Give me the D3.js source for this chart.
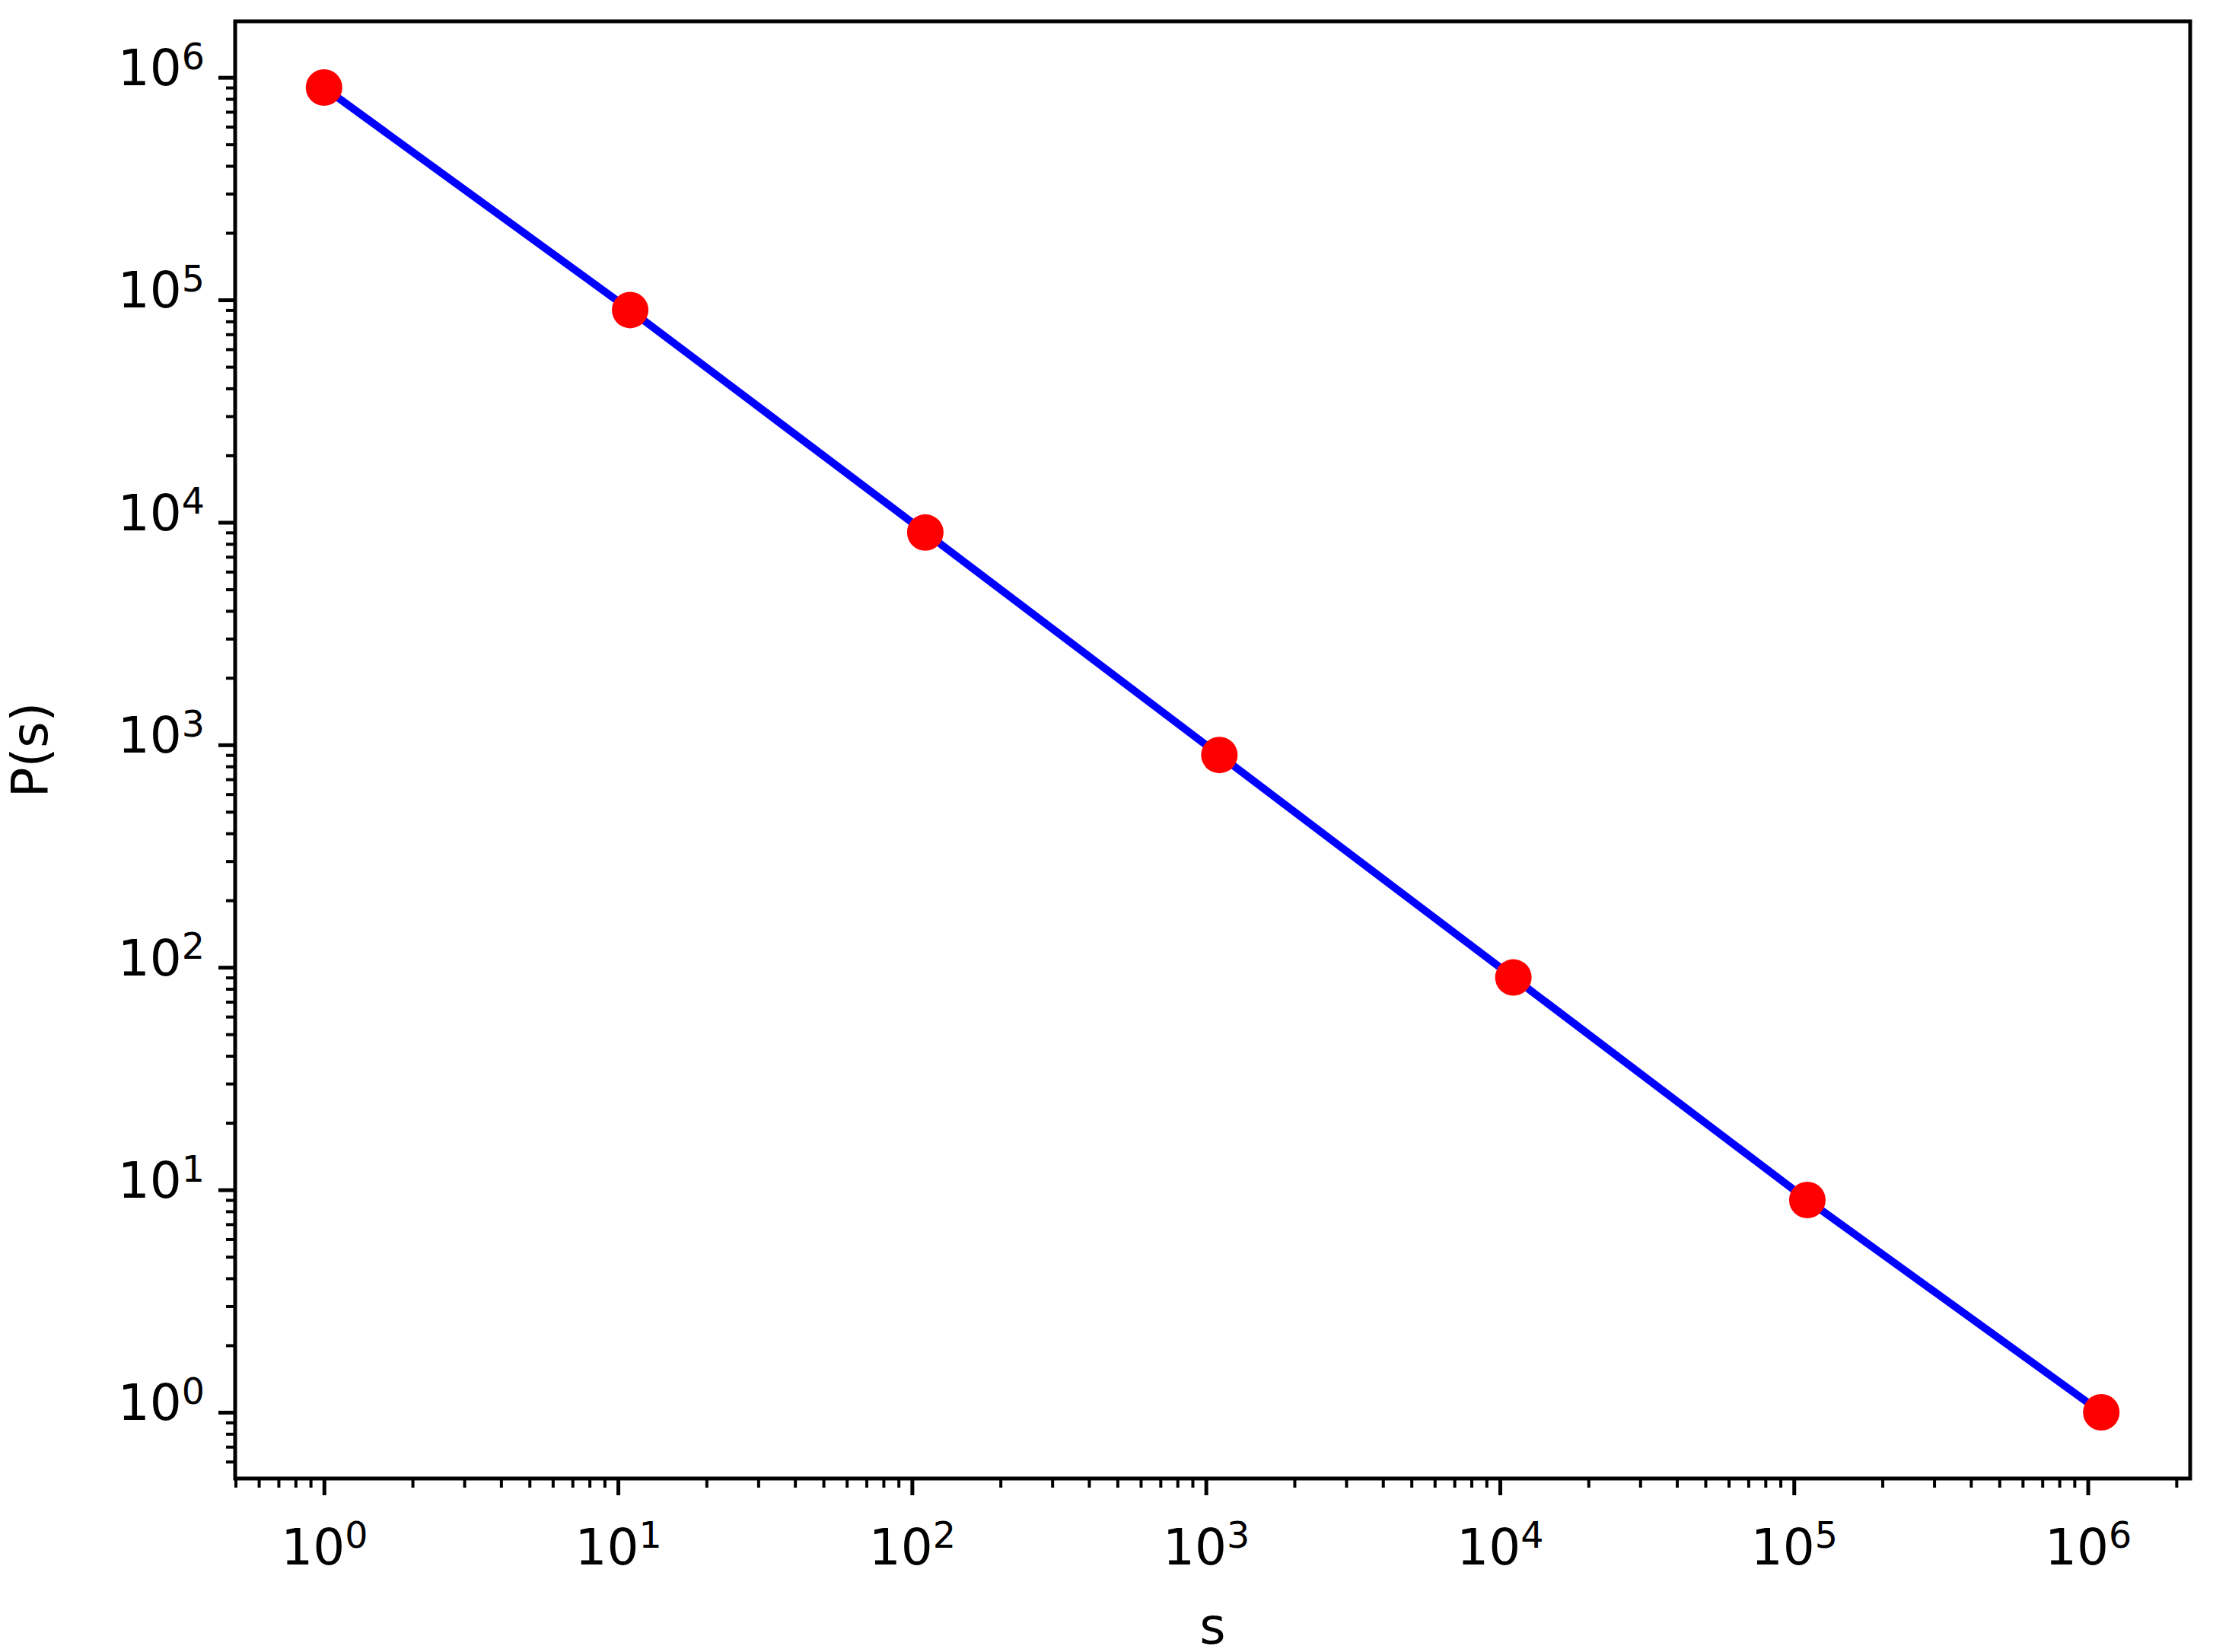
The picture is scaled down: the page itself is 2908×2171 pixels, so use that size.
<!DOCTYPE html>
<html><head><meta charset="utf-8">
<script src="https://cdn.jsdelivr.net/npm/d3@7"></script>
<style>body{margin:0;background:#fff}text{font-family:"DejaVu Sans";}</style>
</head><body>
<script>
const sValues = [1, 11, 111, 1111, 11111, 111111, 1111111];
const pValues = [900000, 90000, 9000, 900, 90, 9, 1];
const xTickExps = [0, 1, 2, 3, 4, 5, 6];
const yTickExps = [0, 1, 2, 3, 4, 5, 6];

const W = 2908, H = 2171;
const m = {l: 309, r: 2878, t: 28, b: 1943};
const svg = d3.select("body").append("svg").attr("width", W).attr("height", H);

const lx = [Math.log10(d3.min(sValues)), Math.log10(d3.max(sValues))];
const ly = [Math.log10(d3.min(pValues)), Math.log10(d3.max(pValues))];
const px = (lx[1]-lx[0])*0.05, py = (ly[1]-ly[0])*0.05;
const x = d3.scaleLog().domain([10**(lx[0]-px), 10**(lx[1]+px)]).range([m.l, m.r]);
const y = d3.scaleLog().domain([10**(ly[0]-py), 10**(ly[1]+py)]).range([m.b, m.t]);

function minorTicks(sc) {
  const [a, b] = sc.domain(); const out = [];
  for (let e = Math.floor(Math.log10(a)); e <= Math.ceil(Math.log10(b)); e++)
    for (let k = 2; k <= 9; k++) { const v = k * 10**e; if (v >= a && v <= b) out.push(v); }
  return out;
}
const sup = g => g.selectAll(".tick text").each(function(d) {
  const t = d3.select(this); const e = Math.round(Math.log10(d));
  t.text(null); t.append("tspan").text("10");
  t.append("tspan").attr("dy", "-0.45em").attr("font-size", "0.72em").text(e);
});

const FS = 66;
// x axis
const gx = svg.append("g").attr("transform", `translate(0,${m.b})`);
gx.call(d3.axisBottom(x).tickValues(minorTicks(x)).tickSize(12).tickFormat(""))
  .call(g => g.select(".domain").remove())
  .selectAll("line").attr("stroke-width", 4);
const gxM = svg.append("g").attr("transform", `translate(0,${m.b})`);
gxM.call(d3.axisBottom(x).tickValues(xTickExps.map(e => 10**e)).tickSize(22).tickPadding(18))
  .call(g => g.select(".domain").remove());
gxM.selectAll("line").attr("stroke-width", 5);
gxM.selectAll("text").attr("font-size", FS).attr("fill", "#000").attr("dy", "1.1em");
gxM.call(sup);

// y axis
const gy = svg.append("g").attr("transform", `translate(${m.l},0)`);
gy.call(d3.axisLeft(y).tickValues(minorTicks(y)).tickSize(12).tickFormat(""))
  .call(g => g.select(".domain").remove())
  .selectAll("line").attr("stroke-width", 4);
const gyM = svg.append("g").attr("transform", `translate(${m.l},0)`);
gyM.call(d3.axisLeft(y).tickValues(yTickExps.map(e => 10**e)).tickSize(22).tickPadding(18))
  .call(g => g.select(".domain").remove());
gyM.selectAll("line").attr("stroke-width", 5);
gyM.selectAll("text").attr("font-size", FS).attr("fill", "#000").attr("dy", "0.15em");
gyM.call(sup);

// frame
svg.append("rect").attr("x", m.l).attr("y", m.t).attr("width", m.r-m.l).attr("height", m.b-m.t)
  .attr("fill", "none").attr("stroke", "#000").attr("stroke-width", 5);

const data = sValues.map((s, i) => ({s, p: pValues[i]}));
svg.append("path").datum(data)
  .attr("d", d3.line().x(d => x(d.s)).y(d => y(d.p)))
  .attr("fill", "none").attr("stroke", "#0000ff").attr("stroke-width", 10);
svg.selectAll("circle").data(data).join("circle")
  .attr("cx", d => x(d.s)).attr("cy", d => y(d.p)).attr("r", 24).attr("fill", "#ff0000");

svg.append("text").attr("x", (m.l+m.r)/2).attr("y", 2160).attr("text-anchor", "middle")
  .attr("font-size", FS).text("s");
svg.append("text").attr("transform", `translate(62,${(m.t+m.b)/2}) rotate(-90)`)
  .attr("text-anchor", "middle").attr("font-size", FS).text("P(s)");
</script>
</body></html>
